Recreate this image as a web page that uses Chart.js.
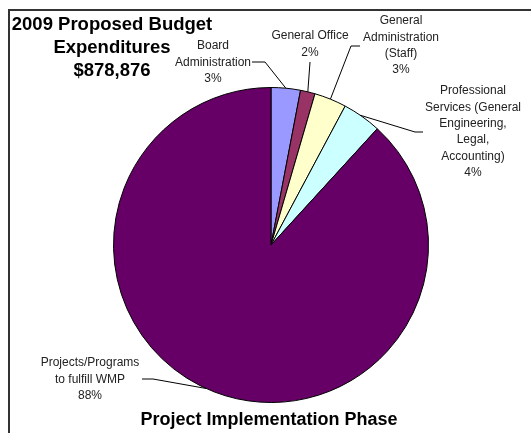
<!DOCTYPE html>
<html>
<head>
<meta charset="utf-8">
<script src="https://cdn.jsdelivr.net/npm/chart.js@4"></script>
<style>
  body { margin: 0; background: #fff; }
  #wrap { width: 531px; height: 433px; }
</style>
</head>
<body>
<div id="wrap"><canvas id="budgetChart" width="531" height="433"></canvas></div>
<script>
// budget items, clockwise from 12 o'clock
const CATEGORIES = ["Board Administration", "General Office", "General Administration (Staff)",
  "Professional Services (General Engineering, Legal, Accounting)", "Projects/Programs to fulfill WMP"];
const LABEL_LINES = [
  ["Board", "Administration"],
  ["General Office"],
  ["General", "Administration", "(Staff)"],
  ["Professional", "Services (General", "Engineering,", "Legal,", "Accounting)"],
  ["Projects/Programs", "to fulfill WMP"]
];
const AMOUNTS = [26400, 13200, 29000, 35000, 775276]; // sums to $878,876
const COLORS = ["#9999FF", "#993366", "#FFFFCC", "#CCFFFF", "#660066"];
const TITLE_LINES = ["2009 Proposed Budget", "Expenditures", "$878,876"];
const FOOTER = "Project Implementation Phase";

// where each label sits, the elbow of its leader line, and where along the slice it lands
const LABEL_POS = [
  { cx: 213, y: 46, from: [252, 62], elbow: [265, 62], at: 0.5 },
  { cx: 310, y: 36, from: [310, 62], elbow: null, at: 0.5 },
  { cx: 401, y: 21, from: [360, 46], elbow: [351, 46], at: 0.5 },
  { cx: 473, y: 91, from: [423, 132], elbow: [415, 132], at: 0.45 },
  { cx: 90, y: 363, from: [142, 379], elbow: [153, 379], at: 0.51 }
];

const total = AMOUNTS.reduce((a, b) => a + b, 0);

const decorPlugin = {
  id: "decor",
  beforeDraw(chart) {
    const ctx = chart.ctx;
    ctx.save();
    ctx.strokeStyle = "#333";
    ctx.lineWidth = 2;
    ctx.beginPath();
    ctx.moveTo(9, 433);
    ctx.lineTo(9, 10);
    ctx.lineTo(531, 10);
    ctx.stroke();
    ctx.restore();
  },
  afterDraw(chart) {
    const ctx = chart.ctx;
    const meta = chart.getDatasetMeta(0);
    ctx.save();
    // slice labels + leader lines
    ctx.font = "12px 'Liberation Sans', Arial, sans-serif";
    ctx.fillStyle = "#222";
    ctx.textAlign = "center";
    ctx.textBaseline = "middle";
    ctx.strokeStyle = "#000";
    ctx.lineWidth = 1;
    meta.data.forEach((arc, i) => {
      const pos = LABEL_POS[i];
      const pct = Math.round(AMOUNTS[i] / total * 100) + "%";
      const lines = LABEL_LINES[i].concat([pct]);
      lines.forEach((t, k) => ctx.fillText(t, pos.cx, pos.y + k * 16.3));
      const a = arc.startAngle + (arc.endAngle - arc.startAngle) * pos.at;
      const ex = arc.x + Math.cos(a) * arc.outerRadius;
      const ey = arc.y + Math.sin(a) * arc.outerRadius;
      ctx.beginPath();
      ctx.moveTo(pos.from[0], pos.from[1]);
      if (pos.elbow) ctx.lineTo(pos.elbow[0], pos.elbow[1]);
      ctx.lineTo(ex, ey);
      ctx.stroke();
    });
    // titles
    ctx.fillStyle = "#000";
    ctx.font = "bold 18.5px 'Liberation Sans', Arial, sans-serif";
    TITLE_LINES.forEach((t, k) => ctx.fillText(t, 112, 25 + k * 23));
    ctx.font = "bold 18px 'Liberation Sans', Arial, sans-serif";
    ctx.fillText(FOOTER, 269, 420);
    ctx.restore();
  }
};

new Chart(document.getElementById("budgetChart"), {
  type: "pie",
  data: {
    labels: CATEGORIES,
    datasets: [{
      data: AMOUNTS,
      backgroundColor: COLORS,
      borderColor: "#000",
      borderWidth: 1
    }]
  },
  options: {
    responsive: false,
    animation: false,
    layout: { padding: { left: 113, right: 102, top: 86, bottom: 29 } },
    plugins: {
      legend: { display: false },
      tooltip: { enabled: false }
    }
  },
  plugins: [decorPlugin]
});
</script>
</body>
</html>
